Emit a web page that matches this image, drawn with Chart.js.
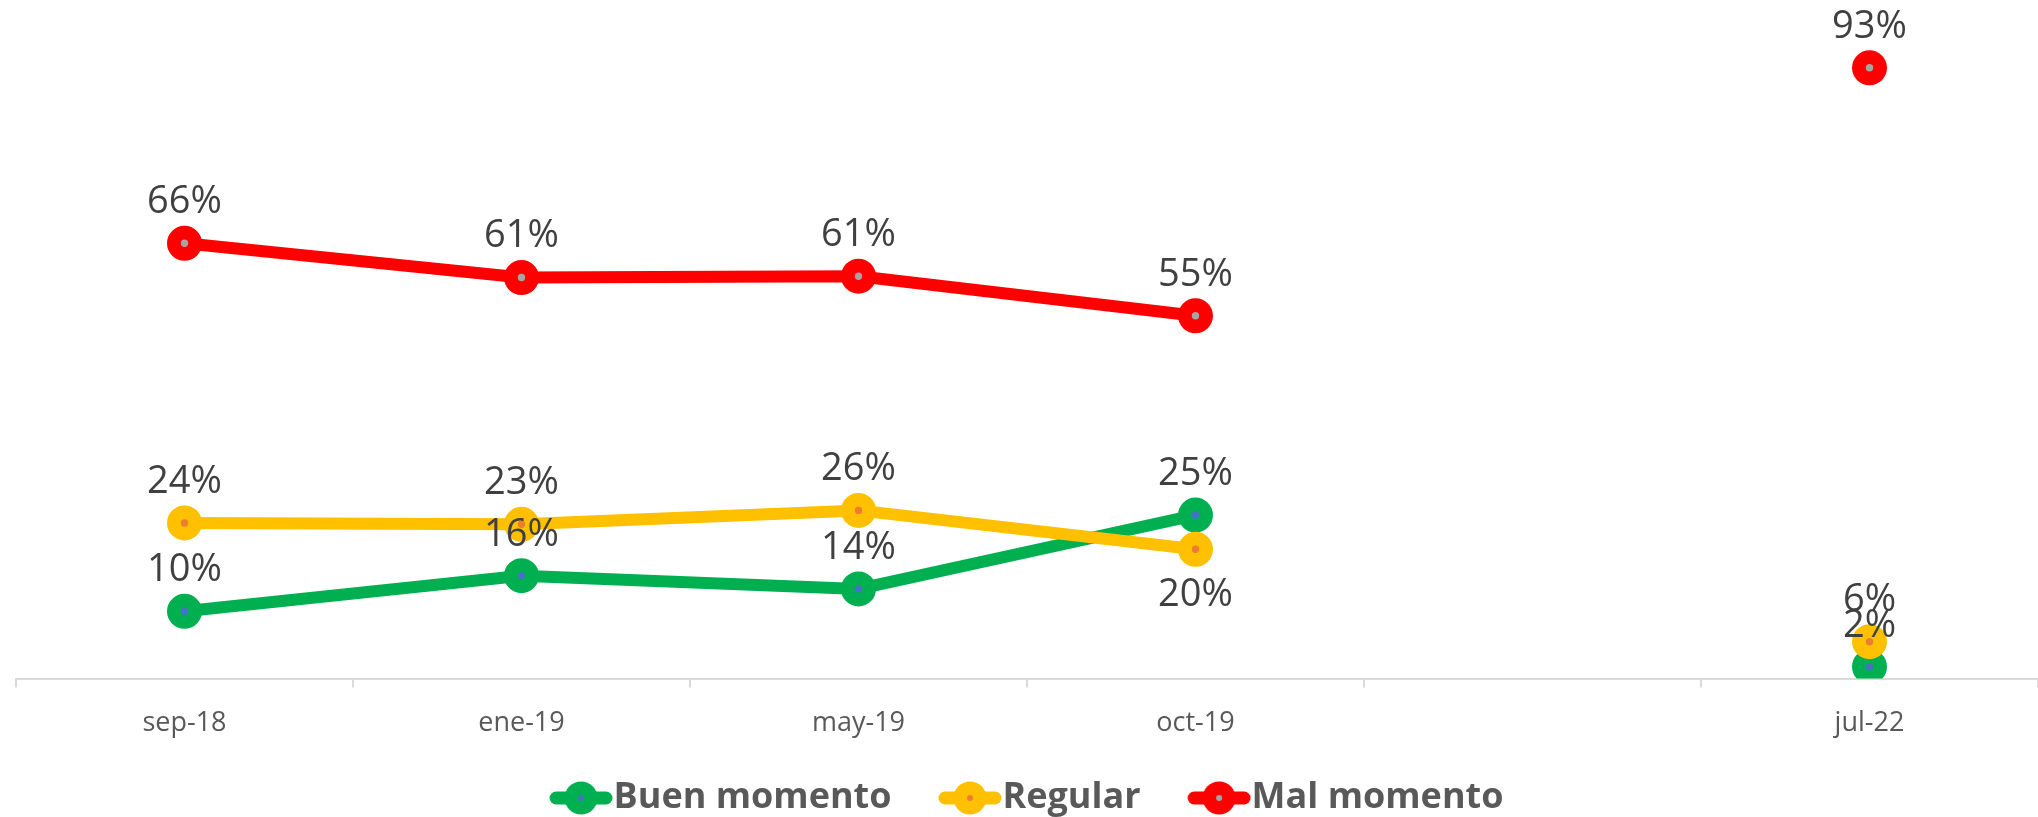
<!DOCTYPE html>
<html>
<head>
<meta charset="utf-8">
<script src="https://cdn.jsdelivr.net/npm/chart.js@4/dist/chart.umd.min.js"></script>
<style>
  html, body { margin: 0; padding: 0; background: #fff; }
  #wrap { width: 2038px; height: 817px; position: relative; }
</style>
</head>
<body>
<div id="wrap"><canvas id="chart"></canvas></div>
<script>
const labels = ['sep-18', 'ene-19', 'may-19', 'oct-19', '', 'jul-22'];
const buenMomento = [10.2, 15.6, 13.6, 24.8, null, 1.8];
const regular = [23.6, 23.4, 25.5, 19.6, null, 5.6];
const malMomento = [66, 60.8, 61, 55, null, 92.6];

const FONT = '"Open Sans", "Noto Sans", sans-serif';
const LEGEND_GAP = 48;

// legend marker: short thick line with the round marker on it
// (left part of the image is left empty so the marker sits next to the text)
function legendMarker(color, dot) {
  const c = document.createElement('canvas');
  c.width = 80;
  c.height = 36;
  const ctx = c.getContext('2d');
  ctx.strokeStyle = color;
  ctx.lineWidth = 13;
  ctx.lineCap = 'round';
  ctx.beginPath();
  ctx.moveTo(23, 18);
  ctx.lineTo(73, 18);
  ctx.stroke();
  ctx.fillStyle = color;
  ctx.beginPath();
  ctx.arc(48, 18, 16.5, 0, Math.PI * 2);
  ctx.fill();
  ctx.fillStyle = dot;
  ctx.beginPath();
  ctx.arc(48, 18, 3, 0, Math.PI * 2);
  ctx.fill();
  return c;
}

function series(label, data, color, dot, order, below) {
  return {
    label,
    data,
    order,
    borderColor: color,
    backgroundColor: color,
    borderWidth: 12,
    pointRadius: 10.6,
    pointHoverRadius: 10.6,
    pointBorderWidth: 13.8,
    pointBorderColor: color,
    pointBackgroundColor: dot,
    legendMarker: legendMarker(color, dot),
    labelBelow: below || [],
    tension: 0,
  };
}

const valueLabels = {
  id: 'valueLabels',
  afterInit(chart) {
    // keep the wide gaps between legend items but a shorter legend box
    const legend = chart.legend;
    const fit = legend.fit.bind(legend);
    const draw = legend.draw.bind(legend);
    legend.fit = function () {
      fit();
      this.height = 57;
    };
    legend.draw = function () {
      const top = this.top;
      this.top = top - (LEGEND_GAP - 20);
      draw();
      this.top = top;
    };
  },
  afterDatasetsDraw(chart) {
    const ctx = chart.ctx;
    ctx.save();
    ctx.font = '38px ' + FONT;
    ctx.fillStyle = '#404040';
    ctx.textAlign = 'center';
    ctx.textBaseline = 'middle';
    chart.data.datasets.forEach((ds, i) => {
      const meta = chart.getDatasetMeta(i);
      meta.data.forEach((pt, j) => {
        const v = ds.data[j];
        if (v === null || v === undefined) return;
        const dy = ds.labelBelow.includes(j) ? 46 : -41;
        ctx.fillText(Math.round(v) + '%', pt.x, pt.y + dy);
      });
    });
    ctx.restore();
  },
};

new Chart(document.getElementById('chart'), {
  type: 'line',
  data: {
    labels,
    datasets: [
      series('Buen momento', buenMomento, '#00B050', '#4472C4', 3),
      series('Regular', regular, '#FFC000', '#ED7D31', 2, [3]),
      series('Mal momento', malMomento, '#FF0000', '#A5A5A5', 1),
    ],
  },
  options: {
    responsive: true,
    maintainAspectRatio: false,
    animation: false,
    layout: { autoPadding: false, padding: { left: 16, right: 0, top: 19, bottom: 0 } },
    plugins: {
      tooltip: { enabled: false },
      legend: {
        position: 'bottom',
        labels: {
          usePointStyle: true,
          pointStyleWidth: 45,
          padding: LEGEND_GAP,
          color: '#595959',
          font: { family: FONT, size: 36, weight: 'bold' },
          sort: (a, b) => a.datasetIndex - b.datasetIndex,
          generateLabels(chart) {
            return chart.data.datasets.map((ds, i) => ({
              text: ds.label,
              datasetIndex: i,
              pointStyle: ds.legendMarker,
              fillStyle: ds.borderColor,
              strokeStyle: ds.borderColor,
              lineWidth: 0,
              hidden: false,
              fontColor: '#595959',
            }));
          },
        },
      },
    },
    scales: {
      x: {
        offset: true,
        grid: {
          offset: true,
          drawOnChartArea: false,
          drawTicks: true,
          tickLength: 9,
          color: '#D9D9D9',
          lineWidth: 2,
        },
        border: { color: '#D9D9D9', width: 2 },
        ticks: {
          color: '#595959',
          padding: 20,
          font: { family: FONT, size: 27 },
          maxRotation: 0,
          autoSkip: false,
        },
      },
      y: {
        display: false,
        min: 0,
        max: 100,
      },
    },
  },
  plugins: [valueLabels],
});
</script>
</body>
</html>
